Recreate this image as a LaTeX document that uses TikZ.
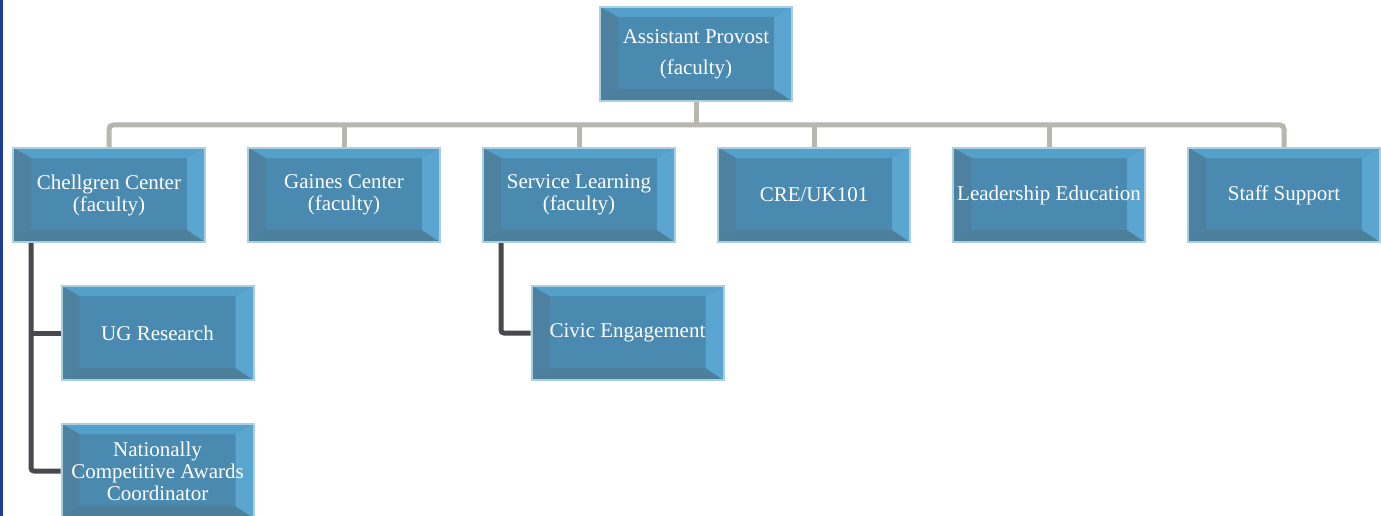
\documentclass[tikz,border=0pt]{standalone}
\usepackage{fontspec}
\setmainfont{Liberation Serif}
\usetikzlibrary{backgrounds}
\definecolor{boxfill}{HTML}{4A8AB0}
\definecolor{bevT}{HTML}{55A0CA}
\definecolor{bevR}{HTML}{5AA6D0}
\definecolor{bevL}{HTML}{4D819F}
\definecolor{bevB}{HTML}{4B7F9A}
\definecolor{boxedge}{HTML}{A9CFE2}
\definecolor{grayline}{HTML}{B7B7AF}
\definecolor{darkline}{HTML}{48484F}
\definecolor{frameblue}{HTML}{1D3C9C}
\tikzset{
  orgbox/.style={draw=boxedge, line width=2pt, fill=boxfill, minimum width=192pt, minimum height=94pt,
    inner sep=0pt, align=center, text=white, font=\fontsize{21}{22}\selectfont,
    path picture={
      \coordinate (nw) at (path picture bounding box.north west);
      \coordinate (ne) at (path picture bounding box.north east);
      \coordinate (sw) at (path picture bounding box.south west);
      \coordinate (se) at (path picture bounding box.south east);
      \fill[bevT] (nw) -- (ne) -- ([shift={(-18pt,-10pt)}]ne) -- ([shift={(18pt,-10pt)}]nw) -- cycle;
      \fill[bevB] (sw) -- (se) -- ([shift={(-18pt,12pt)}]se) -- ([shift={(18pt,12pt)}]sw) -- cycle;
      \fill[bevL] (nw) -- (sw) -- ([shift={(18pt,12pt)}]sw) -- ([shift={(18pt,-10pt)}]nw) -- cycle;
      \fill[bevR] (ne) -- (se) -- ([shift={(-18pt,12pt)}]se) -- ([shift={(-18pt,-10pt)}]ne) -- cycle;
    }},
  grayconn/.style={draw=grayline, line width=5pt, rounded corners=4pt},
  darkconn/.style={draw=darkline, line width=5pt, rounded corners=3pt}
}
\newcommand{\dn}[1]{\raisebox{-2pt}{\shortstack{#1}}}
\begin{document}
\begin{tikzpicture}[x=1pt,y=-1pt]
\useasboundingbox (0,0) rectangle (1381,516);
\node[orgbox] (top) at (696,54) {Assistant Provost\\[9pt](faculty)};
\node[orgbox] (c1) at (109,195) {Chellgren Center\\(faculty)};
\node[orgbox] (c2) at (344,195) {Gaines Center\\(faculty)};
\node[orgbox] (c3) at (579,195) {Service Learning\\(faculty)};
\node[orgbox] (c4) at (814,195) {CRE/UK101};
\node[orgbox] (c5) at (1049,195) {Leadership Education};
\node[orgbox] (c6) at (1284,195) {Staff Support};
\node[orgbox] (ug) at (157.5,333) {UG Research};
\node[orgbox] (nca) at (157.5,471) {Nationally\\Competitive Awards\\Coordinator};
\node[orgbox] (civ) at (627.5,333) {Civic Engagement};
\coordinate (bus) at (696,125);
\coordinate (lspine) at (31,243);
\coordinate (rspine) at (501,243);
\begin{scope}[on background layer]
\fill[white] (0,0) rectangle (1381,516);
\fill[frameblue] (0,0) rectangle (3,516);
\draw[grayconn] (top.south) -- (bus);
\draw[grayconn] (c1.north) |- (bus) -| (c6.north);
\foreach \n in {c2,c3,c4,c5} \draw[grayconn] (\n.north) -- (\n.north |- bus);
\draw[darkconn] (lspine) |- (nca.west);
\draw[darkconn] (lspine |- ug.west) -- (ug.west);
\draw[darkconn] (rspine) |- (civ.west);
\end{scope}
\end{tikzpicture}
\end{document}
